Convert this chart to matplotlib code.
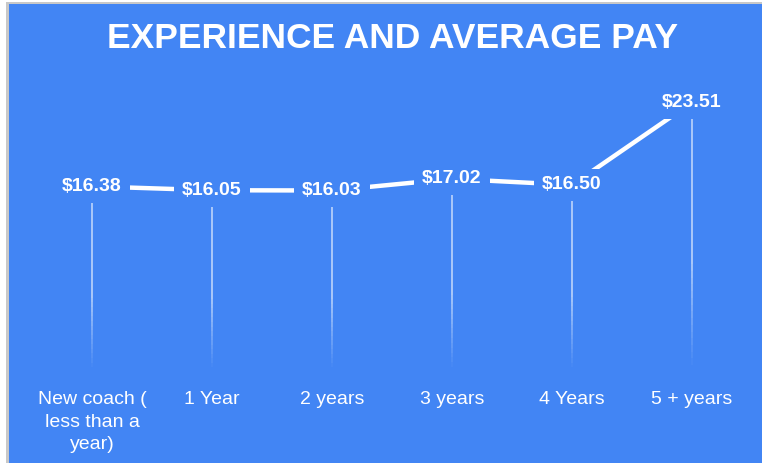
import numpy as np
import matplotlib
matplotlib.use("Agg")
import matplotlib.pyplot as plt
from matplotlib.patches import Rectangle

BLUE = '#4285F4'

categories = ['New coach (\nless than a\nyear)', '1 Year', '2 years', '3 years', '4 Years', '5 + years']
pay = [16.38, 16.05, 16.03, 17.02, 16.50, 23.51]

plt.rcParams['font.family'] = ['Liberation Sans', 'DejaVu Sans']

W, H = 762, 463
fig = plt.figure(figsize=(W / 100, H / 100), dpi=100, facecolor='white')

# light frame and the blue card behind everything
fig.patches.append(Rectangle((6 / W, 0), 1, 1 - 2 / H, transform=fig.transFigure,
                             facecolor='#c8c8c8', edgecolor='none', zorder=-2))
fig.patches.append(Rectangle((9 / W, 0), 1, 1 - 4 / H, transform=fig.transFigure,
                             facecolor=BLUE, edgecolor='none', zorder=-1))

fig.text(393 / W, 1 - 39 / H, 'EXPERIENCE AND AVERAGE PAY', color='white',
         fontsize=25.5, fontweight='bold', ha='center', va='center')

ax = fig.add_axes([32 / W, 1 - 379 / H, 720 / W, 294 / H])
ax.set_facecolor('none')
x = np.arange(len(pay))
ax.set_xlim(-0.5, len(pay) - 0.5)
ax.set_ylim(0, 25)

# drop lines fading out towards the bottom
n = 40
for xi, v in zip(x, pay):
    ys = np.linspace(0.6, v, n + 1)
    for k in range(n):
        frac = k / n
        a = 0.7 * min(1.0, frac / 0.4)
        ax.plot([xi, xi], [ys[k], ys[k + 1]], color='white', alpha=a, lw=1.1,
                solid_capstyle='butt', zorder=1)

ax.plot(x, pay, color='white', lw=3.2, zorder=2, solid_capstyle='butt')

for xi, v in zip(x, pay):
    ax.text(xi, v, f'${v:.2f}', color='white', fontsize=14, fontweight='bold',
            ha='center', va='center', zorder=3,
            bbox=dict(boxstyle='square,pad=0.4', facecolor=BLUE, edgecolor='none'))

ax.set_xticks(x)
ax.set_xticklabels(categories, color='white', fontsize=14, linespacing=1.4)
ax.tick_params(axis='x', length=0, pad=9)
ax.set_yticks([])
for s in ax.spines.values():
    s.set_visible(False)

fig.savefig('out.png', dpi=100, facecolor=fig.get_facecolor())
